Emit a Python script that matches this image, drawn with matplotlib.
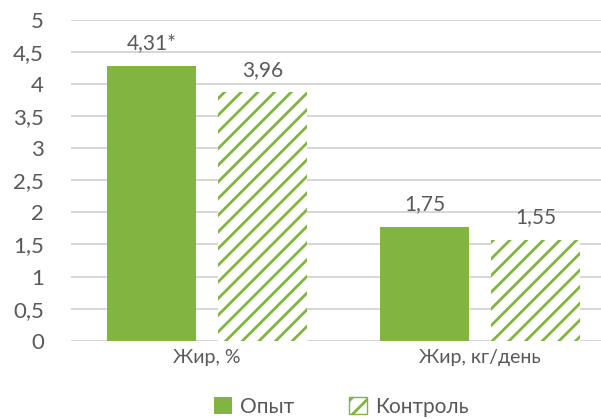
import matplotlib
matplotlib.use("Agg")
import matplotlib.pyplot as plt
from matplotlib.patches import Patch
import numpy as np

# dane
kategorie = ["Жир, %", "Жир, кг/день"]
opyt = [4.28, 1.78]
kontrol = [3.87, 1.57]
opyt_etykiety = ["4,31*", "1,75"]
kontrol_etykiety = ["3,96", "1,55"]
serie = ["Опыт", "Контроль"]
yticks = [0, 0.5, 1, 1.5, 2, 2.5, 3, 3.5, 4, 4.5, 5]
ytick_labels = ["0", "0,5", "1", "1,5", "2", "2,5", "3", "3,5", "4", "4,5", "5"]

ZIELONY = "#82B440"
SZARY = "#595959"

plt.rcParams["font.family"] = ["Lato", "Open Sans", "DejaVu Sans"]
plt.rcParams["hatch.linewidth"] = 2.0

fig = plt.figure(figsize=(6.01, 4.19), dpi=100)
ax = fig.add_axes([70.5 / 601, 78.3 / 419, 546 / 601, 320.7 / 419])

x = np.arange(len(kategorie))
szer = 0.326
b1 = ax.bar(x - 0.203, opyt, szer, color=ZIELONY, linewidth=0, zorder=3)
b2 = ax.bar(x + 0.203, kontrol, szer, color="white", edgecolor=ZIELONY,
            hatch="//", linewidth=0, zorder=3)

for rect, t in zip(b1, opyt_etykiety):
    ax.text(rect.get_x() + rect.get_width() / 2, rect.get_height() + 0.2, t,
            ha="center", va="bottom", fontsize=15, color=SZARY)
for rect, t in zip(b2, kontrol_etykiety):
    ax.text(rect.get_x() + rect.get_width() / 2, rect.get_height() + 0.2, t,
            ha="center", va="bottom", fontsize=15, color=SZARY)

ax.set_xlim(-0.5, 1.5)
ax.set_ylim(0, 5)
ax.set_yticks(yticks)
ax.set_yticklabels(ytick_labels)
ax.set_xticks(x)
ax.set_xticklabels(kategorie)
ax.tick_params(axis="y", length=0, labelsize=16, labelcolor=SZARY, pad=19)
ax.tick_params(axis="x", length=0, labelsize=14, labelcolor=SZARY, pad=6)
for s in ax.spines.values():
    s.set_visible(False)
ax.yaxis.grid(True, color="#D0D0D0", linewidth=1.2, zorder=0)
ax.set_axisbelow(True)

uchwyty = [Patch(facecolor=ZIELONY, edgecolor=ZIELONY, linewidth=0),
           Patch(facecolor="white", edgecolor=ZIELONY, hatch="//", linewidth=1)]
fig.legend(uchwyty, serie, loc="center", bbox_to_anchor=(0.568, 1 - 407 / 419),
           ncol=2, frameon=False, fontsize=15, handlelength=0.87, handleheight=0.87,
           columnspacing=2.6, handletextpad=0.4, labelcolor=SZARY)

plt.savefig("out.png", dpi=100)
